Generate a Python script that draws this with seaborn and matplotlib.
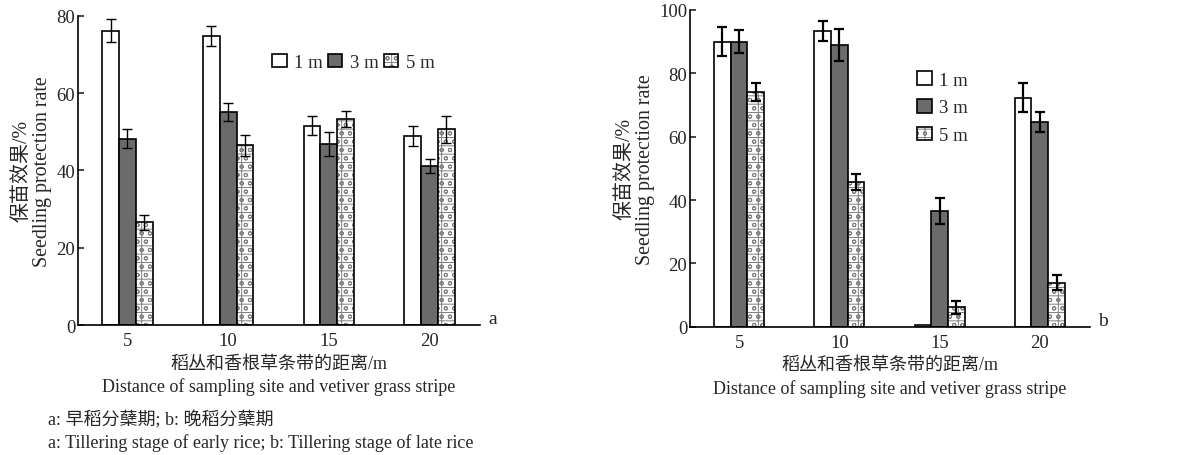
import numpy as np
import pandas as pd
import matplotlib
matplotlib.use('Agg')
import matplotlib.pyplot as plt
import seaborn as sns

# Data (seedling protection rate, %)

distance = ['5', '10', '15', '20']
spacing = ['1 m', '3 m', '5 m']

early_1m = [76.2, 74.8, 51.6, 48.9]
early_3m = [48.2, 55.1, 46.8, 41.1]
early_5m = [26.6, 46.5, 53.4, 50.6]
early_1m_err = [3.0, 2.5, 2.5, 2.7]
early_3m_err = [2.4, 2.4, 3.1, 1.8]
early_5m_err = [2.0, 2.7, 2.1, 3.4]

late_1m = [90.0, 93.3, 0.6, 72.3]
late_3m = [90.0, 88.9, 36.5, 64.7]
late_5m = [74.1, 45.7, 6.1, 13.9]
late_1m_err = [4.6, 3.2, 0.0, 4.6]
late_3m_err = [3.6, 5.1, 4.0, 3.2]
late_5m_err = [2.9, 2.6, 2.0, 2.4]

sns.set_style('ticks')
plt.rcParams['font.family'] = ['Liberation Serif', 'Noto Sans CJK SC']
plt.rcParams['hatch.linewidth'] = 0.7
plt.rcParams['axes.unicode_minus'] = False


def long_table(series):
    rows = []
    for name, vals in zip(spacing, series):
        for d, v in zip(distance, vals):
            rows.append({'Distance': d, 'Spacing': name, 'Rate': v})
    return pd.DataFrame(rows)


def draw_panel(ax, series, errors, ymax, err_lw, tag, legend_kw):
    df = long_table(series)
    sns.barplot(data=df, x='Distance', y='Rate', hue='Spacing', order=distance,
                hue_order=spacing, palette=['white', '#6b6b6b', 'white'],
                width=0.5, errorbar=None, edgecolor='black', linewidth=1.2,
                legend=False, ax=ax)
    # pattern on the 5 m bars and error bars from the bar positions
    for i, (cont, err) in enumerate(zip(ax.containers, errors)):
        for bar, e in zip(cont, err):
            if i == 2:
                bar.set_hatch('--|oo')
                bar._hatch_color = (0.5, 0.5, 0.5, 1.0)
            xc = bar.get_x() + bar.get_width() / 2
            if e > 0:
                ax.errorbar(xc, bar.get_height(), yerr=e, color='black',
                            capsize=3.5, elinewidth=err_lw, capthick=err_lw, zorder=5)
    ax.legend(ax.containers, spacing, frameon=False, fontsize=13.5,
              handlelength=0.75, handleheight=0.75, handletextpad=0.4,
              borderaxespad=0, **legend_kw)
    ax.set_ylim(0, ymax)
    ax.set_xlim(-0.49, 3.5)
    ax.set_yticks(np.arange(0, ymax + 1, 20))
    sns.despine(ax=ax)
    for s in ['left', 'bottom']:
        ax.spines[s].set_linewidth(1.2)
        ax.spines[s].set_color('black')
    ax.tick_params(axis='y', direction='in', length=4, width=1.2, labelsize=13.5, pad=2)
    ax.tick_params(axis='x', length=0, labelsize=13.5, pad=5)
    ax.set_ylabel('保苗效果/%\nSeedling protection rate', fontsize=14.4, linespacing=1.1,
                  labelpad=3)
    ax.set_xlabel('稻丛和香根草条带的距离/m\nDistance of sampling site and vetiver grass stripe',
                  fontsize=13, linespacing=1.4, labelpad=4)
    ax.text(1.02, 0.02, tag, transform=ax.transAxes, fontsize=14, ha='left', va='center')


fig = plt.figure(figsize=(11.8, 4.56), dpi=100)
ax1 = fig.add_axes([0.0661, 0.285, 0.3407, 0.678])
ax2 = fig.add_axes([0.5847, 0.2814, 0.339, 0.6945])

draw_panel(ax1, [early_1m, early_3m, early_5m],
           [early_1m_err, early_3m_err, early_5m_err], 80, 1.0, 'a',
           dict(loc='center left', bbox_to_anchor=(0.465, 0.85), ncol=3, columnspacing=0.3))
draw_panel(ax2, [late_1m, late_3m, late_5m],
           [late_1m_err, late_3m_err, late_5m_err], 100, 1.6, 'b',
           dict(loc='upper left', bbox_to_anchor=(0.55, 0.83), ncol=1, labelspacing=0.55))

fig.text(0.041, 0.079, 'a: 早稻分蘖期; b: 晚稻分蘖期', fontsize=13, va='center')
fig.text(0.041, 0.028, 'a: Tillering stage of early rice; b: Tillering stage of late rice',
         fontsize=13, va='center')

fig.savefig('out.png', dpi=100)
